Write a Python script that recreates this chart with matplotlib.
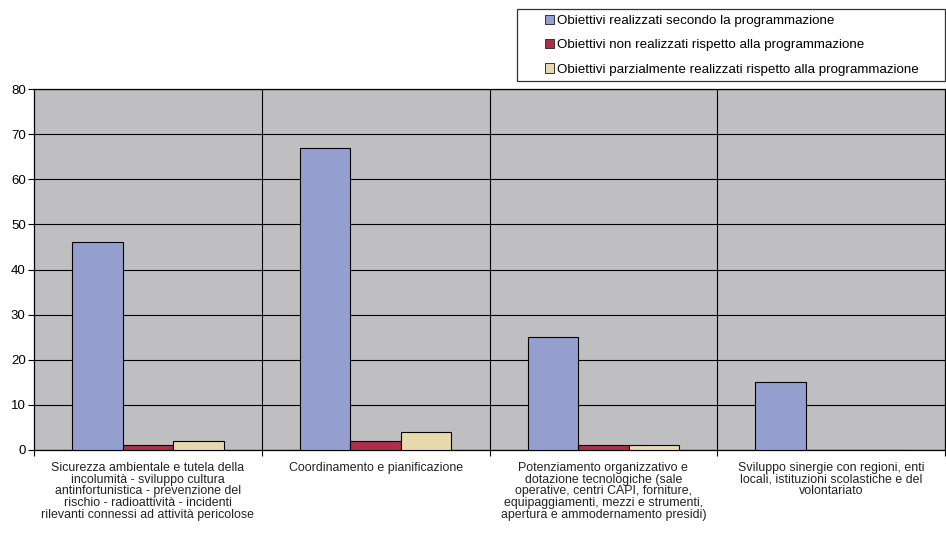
import matplotlib
matplotlib.use("Agg")
import matplotlib.pyplot as plt
from matplotlib.patches import Rectangle, Patch
import numpy as np

plt.rcParams['font.family'] = ['Liberation Sans', 'DejaVu Sans']

categories = [
    "Sicurezza ambientale e tutela della\nincolumità - sviluppo cultura\nantinfortunistica - prevenzione del\nrischio - radioattività - incidenti\nrilevanti connessi ad attività pericolose",
    "Coordinamento e pianificazione",
    "Potenziamento organizzativo e\ndotazione tecnologiche (sale\noperative, centri CAPI, forniture,\nequipaggiamenti, mezzi e strumenti,\napertura e ammodernamento presidi)",
    "Sviluppo sinergie con regioni, enti\nlocali, istituzioni scolastiche e del\nvolontariato",
]
series_names = [
    "Obiettivi realizzati secondo la programmazione",
    "Obiettivi non realizzati rispetto alla programmazione",
    "Obiettivi parzialmente realizzati rispetto alla programmazione",
]
realizzati = [46, 67, 25, 15]
non_realizzati = [1, 2, 1, 0]
parziali = [2, 4, 1, 0]
y_ticks = [0, 10, 20, 30, 40, 50, 60, 70, 80]

colors = ["#959fcf", "#a8304a", "#e8d9ac"]
series = [realizzati, non_realizzati, parziali]

fig = plt.figure(figsize=(9.46, 5.36), dpi=100)
fig.patch.set_facecolor("white")
ax = fig.add_axes([34 / 946, 1 - 450 / 536, (945 - 34) / 946, (450 - 89) / 536])
ax.set_facecolor("#bfbfc1")

n = len(categories)
centers = np.arange(n) + 0.5
w = 0.222
for i, (vals, col) in enumerate(zip(series, colors)):
    ax.bar(centers + (i - 1) * w, vals, width=w, color=col, edgecolor="black",
           linewidth=0.8, zorder=3, label=series_names[i])

ax.set_xlim(0, n)
ax.set_ylim(0, 80)
ax.set_yticks(y_ticks)
ax.yaxis.grid(True, color="black", linewidth=0.8, zorder=1)
for b in range(1, n):
    ax.axvline(b, color="black", linewidth=0.8, zorder=1)

# boundaries carry tick marks, centers carry labels
ax.set_xticks(np.arange(n + 1))
ax.set_xticklabels([])
ax.tick_params(axis="x", which="major", direction="out", length=4, width=0.8)
ax.set_xticks(centers, minor=True)
ax.set_xticklabels(categories, minor=True, fontsize=8.9, color="#222222", linespacing=0.98)
ax.tick_params(axis="x", which="minor", length=0, pad=8.5)
ax.tick_params(axis="y", direction="out", length=4, width=0.8, labelsize=9.5, pad=2)
for s in ax.spines.values():
    s.set_color("black")
    s.set_linewidth(0.9)

# legend with its own framed box
fig.patches.append(Rectangle((517 / 946, 1 - 81 / 536), (945 - 517) / 946, 72 / 536,
                             transform=fig.transFigure, facecolor="white",
                             edgecolor="#333333", linewidth=0.9))
handles = [Patch(facecolor=c, edgecolor="#333333", linewidth=0.7) for c in colors]
fig.legend(handles, series_names, loc="upper left",
           bbox_to_anchor=(545 / 946, 1 - 14.5 / 536), frameon=False,
           fontsize=9.6, handlelength=0.7, handleheight=0.7,
           handletextpad=0.2, labelspacing=0.9, borderpad=0, borderaxespad=0)

fig.savefig("out.png", dpi=100)
